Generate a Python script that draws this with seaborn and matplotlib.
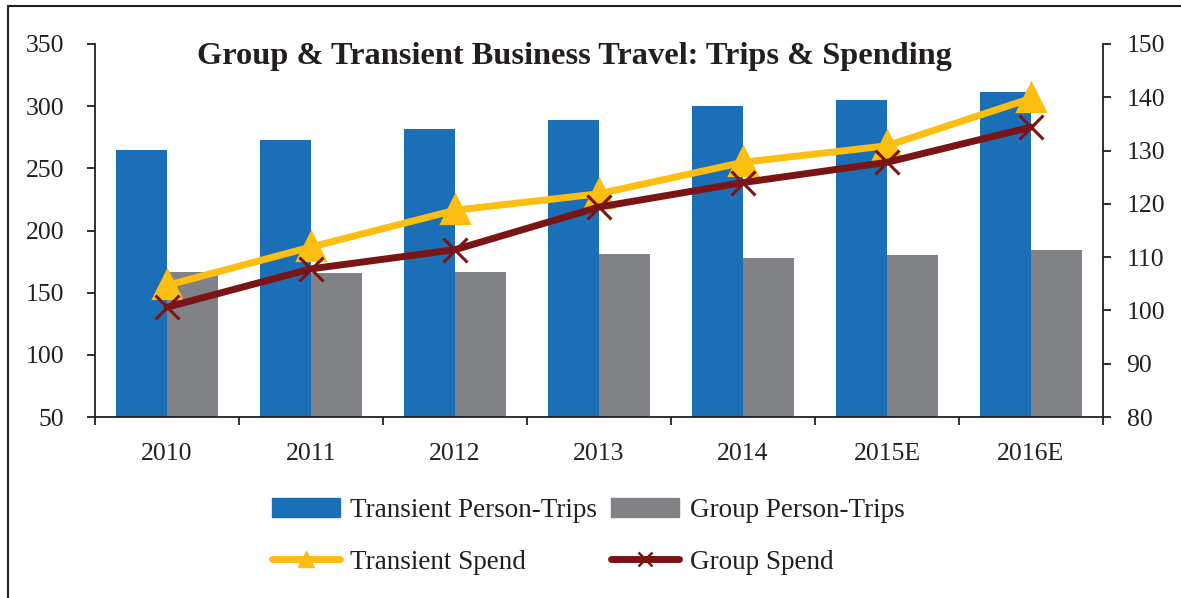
import matplotlib
matplotlib.use("Agg")
import matplotlib.pyplot as plt
import seaborn as sns
import pandas as pd
from matplotlib.lines import Line2D
from matplotlib.patches import Patch

years = ['2010', '2011', '2012', '2013', '2014', '2015E', '2016E']
transient_trips = [265, 273, 282, 289, 300, 305, 311]
group_trips = [166.5, 166, 166.5, 181, 177.5, 180, 184.5]
transient_spend = [104.7, 111.9, 118.8, 121.9, 127.8, 130.9, 139.8]
group_spend = [100.6, 107.8, 111.4, 119.4, 124.0, 127.8, 134.4]

BLUE = '#1B6FB7'
GRAY = '#818285'
GOLD = '#FDBE12'
MAROON = '#7B1416'
INK = '#231F20'

sns.set_theme(style="white")
plt.rcParams['font.family'] = ['Liberation Serif', 'DejaVu Serif']
plt.rcParams['text.color'] = INK
plt.rcParams['axes.labelcolor'] = INK
plt.rcParams['xtick.color'] = INK
plt.rcParams['ytick.color'] = INK

trips = pd.DataFrame({
    'year': years * 2,
    'trips': transient_trips + group_trips,
    'series': ['Transient Person-Trips'] * 7 + ['Group Person-Trips'] * 7,
})

fig = plt.figure(figsize=(11.81, 5.98), dpi=100)
ax = fig.add_axes([95 / 1181, 1 - 417 / 598, 1008 / 1181, 373 / 598])

sns.barplot(data=trips, x='year', y='trips', hue='series',
            palette=[BLUE, GRAY], width=0.71, saturation=1,
            legend=False, ax=ax, linewidth=0)
ax.set_ylim(50, 350)
ax.set_yticks(range(50, 351, 50))

ax2 = ax.twinx()
sns.pointplot(x=years, y=transient_spend, ax=ax2, color=GOLD, markers='^',
              markersize=17, linewidth=5)
sns.pointplot(x=years, y=group_spend, ax=ax2, color=MAROON, markers='x',
              markersize=17, markeredgewidth=2.2, linewidth=5)
ax2.set_ylim(80, 150)
ax2.set_yticks(range(80, 151, 10))

# category ticks at the boundaries, labels at the centres
ax.set_xlim(-0.5, 6.5)
ax.set_xticks(range(len(years)))
ax.set_xticklabels(years)
ax.set_xticks([i - 0.5 for i in range(len(years) + 1)], minor=True)
ax.tick_params(axis='x', which='major', length=0, pad=19, labelsize=18.5)
ax.tick_params(axis='x', which='minor', length=6, width=1.3, direction='out', bottom=True)
ax.tick_params(axis='y', length=6, width=1.3, direction='out', left=True, labelsize=18.5, pad=16)
ax2.tick_params(axis='y', length=6, width=1.3, direction='out', right=True, labelsize=18.5, pad=11)
ax.set_xlabel('')
ax.set_ylabel('')
ax2.set_ylabel('')

for a in (ax, ax2):
    a.spines['top'].set_visible(False)
    for s in ('left', 'right', 'bottom'):
        a.spines[s].set_color(INK)
        a.spines[s].set_linewidth(1.3)
ax.spines['right'].set_visible(False)
ax2.spines['left'].set_visible(False)
ax2.spines['bottom'].set_visible(False)

ax.text(0.476, 0.967, 'Group & Transient Business Travel: Trips & Spending',
        transform=ax.transAxes, ha='center', va='center',
        fontsize=23.3, fontweight='bold')

handles = [
    Patch(color=BLUE),
    Line2D([], [], color=GOLD, lw=5, marker='^', markersize=12),
    Patch(color=GRAY),
    Line2D([], [], color=MAROON, lw=5, marker='x', markersize=10, markeredgewidth=1.8),
]
labels = ['Transient Person-Trips', 'Transient Spend', 'Group Person-Trips', 'Group Spend']
fig.legend(handles, labels, ncol=2, loc='center', bbox_to_anchor=(0.498, 0.103),
           frameon=False, fontsize=19.5, handlelength=2.5, handleheight=0.7,
           handletextpad=0.4, columnspacing=0.5, labelspacing=1.0)

# frame around the chart
fig.add_artist(Line2D([8 / 1181, 1], [1 - 6 / 598] * 2, transform=fig.transFigure,
                      color=INK, lw=1.5))
fig.add_artist(Line2D([8 / 1181] * 2, [0, 1 - 6 / 598], transform=fig.transFigure,
                      color=INK, lw=1.5))

fig.savefig('out.png', dpi=100)
